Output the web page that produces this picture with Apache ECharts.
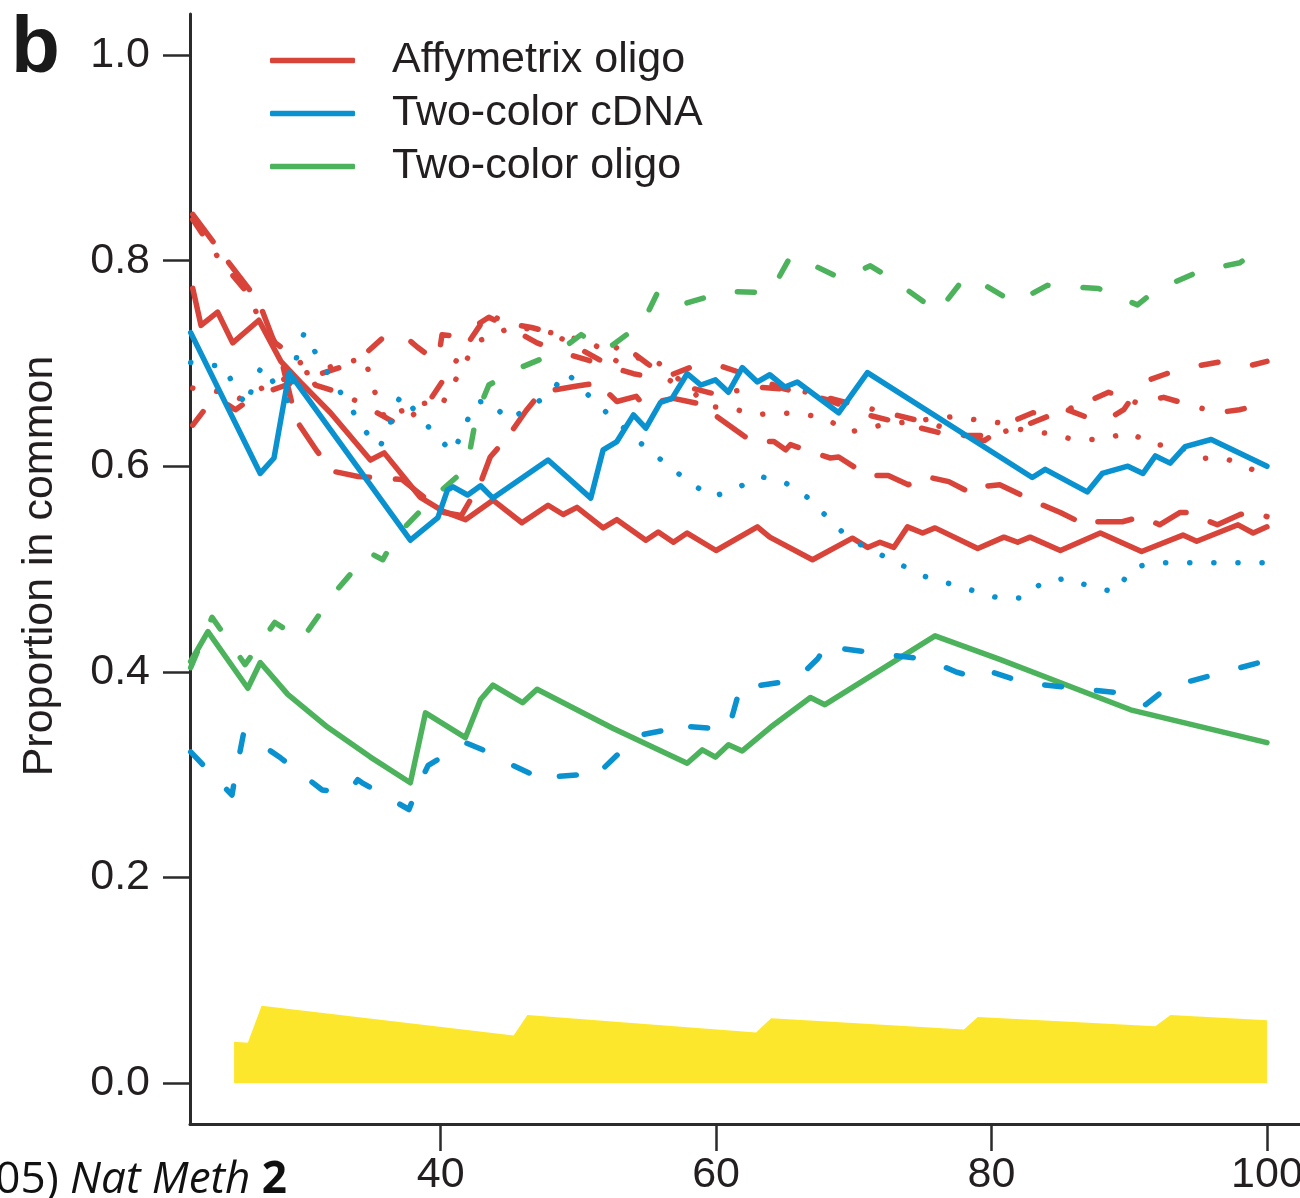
<!DOCTYPE html>
<html>
<head>
<meta charset="utf-8">
<script src="https://cdn.jsdelivr.net/npm/echarts@6/dist/echarts.min.js"></script>
<style>
  html, body { margin: 0; padding: 0; background: #fff; }
  #chart { width: 1300px; height: 1198px; }
</style>
</head>
<body>
<div id="chart"></div>
<script>
// tick labels
const xTicks = [40, 60, 80, 100]
const yTicks = [0, 0.2, 0.4, 0.6, 0.8, 1.0]
const legendNames = ['Affymetrix oligo', 'Two-color cDNA', 'Two-color oligo']

// Affymetrix oligo (red)
const affySolid = [[22,.773],[22.6,.737],[23.8,.750],[24.9,.720],[26.8,.742],[28.4,.702],[29.8,.682],[32.0,.652],[34.9,.606],[35.9,.613],[38.5,.570],[40.2,.556],[41.8,.548],[43.8,.567],[45.9,.545],[47.8,.562],[48.9,.553],[49.9,.560],[51.8,.540],[52.8,.548],[54.9,.528],[55.8,.536],[56.9,.526],[57.9,.535],[60.0,.518],[63.0,.541],[63.9,.531],[67.0,.509],[69.9,.530],[71.0,.521],[71.9,.526],[72.9,.521],[73.9,.541],[75.0,.535],[75.9,.540],[79.0,.520],[80.9,.531],[81.9,.526],[82.8,.531],[85.0,.518],[87.9,.535],[90.9,.517],[93.9,.533],[94.9,.527],[97.9,.543],[99.0,.535],[100,.541]]
const affyDash = [[22,.640],[23.6,.668],[25.1,.655],[26.5,.668],[29,.680],[32.9,.697],[34.4,.708],[35.9,.726],[37,.731],[38.3,.716],[39.8,.701],[40.1,.728],[41.3,.726],[43.5,.745],[45,.735],[47,.720],[49,.710],[51.5,.700],[54,.690],[56,.685],[58.3,.697],[59.8,.700],[62,.690],[65,.675],[68,.665],[71,.650],[74,.640],[77,.630],[79.5,.625],[81.4,.643],[83,.652],[85.5,.655],[88,.642],[89.6,.655],[91,.682],[92.7,.690],[95.1,.698],[96.8,.702],[98.8,.698],[100,.702]]
const affyDotDash = [[22,.840],[24,.800],[26.2,.765],[26.6,.750],[28,.720],[29.7,.703],[30.9,.679],[33,.670],[35,.655],[37,.640],[39,.660],[41,.700],[43.5,.750],[44.5,.740],[46.6,.735],[48,.730],[50,.715],[52,.700],[53,.720],[55,.700],[57,.680],[60,.670],[63,.677],[66,.674],[70,.660],[73,.650],[76,.640],[78,.630],[80,.630],[82.5,.640],[84,.648],[86.5,.660],[88.5,.672],[90.5,.662],[92.5,.667],[94.3,.660],[96.4,.652],[98,.655],[99,.658],[100,.650]]
const affyDot = [[22,.676],[24.2,.672],[25.4,.666],[28,.682],[30,.690],[33,.700],[34.5,.706],[35,.680],[36,.645],[37,.653],[39,.662],[40,.658],[41,.682],[42.6,.721],[45.3,.736],[48,.730],[51,.720],[53,.700],[55,.708],[56.5,.694],[58,.676],[59.5,.658],[61,.657],[62.8,.650],[64.5,.652],[66.2,.651],[67.9,.647],[69.6,.633],[72,.640],[75,.645],[77,.648],[79,.645],[80.7,.642],[82,.636],[84,.632],[86,.626],[88,.626],[90,.633],[91.7,.621],[93.5,.620],[95.3,.608],[97.1,.607],[98.9,.597],[100,.595]]
const affyLong = [[22,.845],[24.5,.800],[26.8,.760],[28.5,.700],[29.5,.645],[31,.615],[32.2,.595],[34,.590],[37.2,.587],[40.2,.555],[41.5,.552],[42.9,.584],[43.6,.609],[44.9,.629],[46.2,.654],[47.3,.672],[49.9,.678],[51.4,.681],[52.8,.663],[54.2,.668],[54.7,.660],[56.9,.666],[58.7,.661],[60.2,.647],[62.6,.624],[64.2,.624],[65.05,.616],[65.4,.621],[66.85,.614],[68.3,.608],[68.9,.609],[71,.591],[72.5,.591],[73.96,.582],[75.2,.590],[76.9,.585],[78.5,.574],[79.2,.580],[80.6,.582],[83.4,.564],[85,.555],[86.95,.542],[87.7,.546],[89.5,.546],[90.9,.551],[92.2,.543],[93.7,.555],[94.2,.555],[96.4,.543],[98.05,.553],[99,.556],[100,.551]]

// Two-color cDNA (blue)
const cdnaSolid = [[21.85,.730],[26.9,.593],[27.9,.608],[29.0,.691],[37.8,.528],[39.8,.550],[40.5,.577],[40.9,.580],[41.96,.572],[42.9,.581],[43.8,.569],[47.8,.606],[50.9,.569],[51.8,.616],[52.8,.624],[54.0,.650],[54.9,.637],[55.96,.662],[56.8,.666],[57.9,.690],[58.9,.679],[59.96,.684],[60.9,.672],[61.9,.696],[63.0,.682],[63.9,.689],[65.0,.677],[65.9,.682],[68.9,.652],[70.99,.691],[82.96,.589],[83.9,.597],[86.95,.575],[88.04,.593],[89.9,.600],[91.0,.593],[91.9,.610],[92.97,.603],[94.06,.619],[95.95,.626],[100,.600]]
const cdnaDash = [[21.85,.322],[24.85,.280],[25.0,.292],[25.7,.341],[28.4,.316],[31.4,.285],[33.25,.282],[33.98,.295],[34.3,.292],[37.7,.266],[38.4,.290],[39.1,.309],[41.8,.331],[43.6,.321],[44.9,.311],[47.0,.298],[47.8,.292],[48.3,.298],[50.3,.300],[50.9,.295],[51.5,.302],[54.3,.338],[56.2,.343],[56.9,.352],[57.6,.347],[60.9,.344],[61.55,.375],[61.99,.388],[62.35,.385],[65.8,.392],[67.4,.413],[68.1,.428],[68.3,.424],[71.7,.418],[75.3,.412],[77.4,.400],[77.9,.398],[78.8,.405],[82.5,.389],[89.6,.379],[91.2,.368],[92.8,.385],[100,.411]]
const cdnaDot = [[21.85,.701],[23.1,.698],[24.3,.698],[25.1,.674],[26.0,.658],[26.4,.684],[27.1,.698],[28.2,.674],[29.0,.662],[29.6,.711],[30.1,.730],[31.1,.706],[32.2,.682],[33.3,.661],[34.3,.638],[35.5,.618],[36.2,.632],[36.6,.657],[37.2,.670],[38.4,.649],[39.8,.628],[40.9,.613],[41.7,.637],[42.5,.662],[43.5,.664],[44.9,.645],[46.6,.658],[48.1,.673],[49.1,.692],[50.5,.672],[51.9,.654],[54.9,.618],[56.5,.601],[58.0,.585],[59.7,.570],[61.4,.578],[63.2,.590],[64.9,.585],[66.6,.570],[69.7,.529],[75.1,.493],[80.7,.471],[82.3,.472],[83.8,.488],[85.6,.491],[87.5,.481],[89.1,.478],[90.1,.500],[91.6,.506],[100,.506]]

// Two-color oligo (green)
const oligoSolid = [[21.85,.410],[23.1,.439],[26.0,.384],[26.9,.409],[28.9,.378],[31.8,.346],[34.9,.317],[37.8,.292],[38.9,.360],[41.8,.336],[42.9,.373],[43.8,.387],[45.95,.370],[47.0,.383],[52.5,.345],[57.9,.311],[59.0,.324],[59.96,.317],[60.9,.329],[61.9,.323],[63.95,.346],[66.85,.375],[67.9,.368],[75.9,.435],[80.6,.412],[90.1,.363],[100,.331]]
const oligoDash = [[21.85,.404],[23.4,.453],[25.8,.407],[27.96,.448],[29.9,.431],[32.3,.477],[34.8,.516],[35.8,.509],[36.7,.531],[39.5,.570],[41.2,.590],[41.96,.603],[42.4,.635],[42.76,.655],[43.5,.679],[45.8,.696],[48.5,.711],[50.2,.728],[52.0,.713],[54.7,.740],[55.75,.769],[57.4,.757],[60.7,.770],[63.95,.769],[65.4,.804],[66.1,.802],[69.0,.783],[69.4,.784],[71.2,.795],[72.9,.781],[76.1,.750],[77.9,.781],[78.5,.784],[81.7,.759],[84.05,.776],[87.75,.773],[88.6,.768],[90.6,.757],[91.9,.771],[95.15,.790],[98.05,.798],[98.8,.806],[100,.812]]

// yellow band
const chanceBand = [[25,.040],[26,.039],[27,.075],[45.3,.046],[46.3,.066],[62.9,.049],[64,.063],[78,.052],[79,.064],[91.9,.055],[93,.066],[100,.061]]

const RED = '#D9443A'
const BLUE = '#0A91CF'
const GREEN = '#4CB35C'
const YELLOW = '#FCE72C'
const INK = '#231f20'
const FONT = '"Liberation Sans", Arial, sans-serif'

const SOLID = 'solid'
const DASHED = [17, 35]
const LONGDASH = [34, 26]
const DOTTED = [0.1, 24]
const DOTDASH = [17, 26, 0.1, 26]

function lineSeries(name, data, color, dash) {
  return {
    name: name,
    type: 'line',
    data: data,
    symbol: 'none',
    silent: true,
    itemStyle: { color: color },
    lineStyle: { color: color, width: 5.5, type: dash, cap: 'round', join: 'round' }
  }
}

const chart = echarts.init(document.getElementById('chart'))

chart.setOption({
  animation: false,
  backgroundColor: '#fff',
  grid: { left: 190, right: 0, top: 14, bottom: 74, outerBoundsMode: 'none', containLabel: false },
  legend: {
    data: legendNames,
    orient: 'vertical',
    left: 270,
    top: 39,
    padding: 0,
    icon: 'roundRect',
    itemWidth: 85,
    itemHeight: 5.5,
    itemGap: 10,
    selectedMode: false,
    textStyle: { fontSize: 43, lineHeight: 43, color: INK, fontFamily: FONT, padding: [0, 0, 0, 32] }
  },
  xAxis: {
    type: 'value',
    min: 21.8,
    max: 102.4,
    axisLine: { onZero: false, lineStyle: { color: '#2b2b2b', width: 3 } },
    axisTick: { length: 27, lineStyle: { color: '#2b2b2b', width: 2.5 }, customValues: xTicks },
    axisLabel: { fontSize: 43, color: INK, fontFamily: FONT, margin: 30, customValues: xTicks },
    splitLine: { show: false }
  },
  yAxis: {
    type: 'value',
    min: -0.04,
    max: 1.04,
    axisLine: { show: true, onZero: false, lineStyle: { color: '#2b2b2b', width: 3 } },
    axisTick: { show: true, length: 27, lineStyle: { color: '#2b2b2b', width: 2.5 }, customValues: yTicks },
    axisLabel: { fontSize: 43, color: INK, fontFamily: FONT, margin: 40, customValues: yTicks,
      formatter: function (v) { return v.toFixed(1) } },
    splitLine: { show: false }
  },
  graphic: [
    { type: 'text', left: 11, top: 10, style: { text: 'b', font: 'bold 80px ' + FONT, fill: '#1a1a1a' } },
    { type: 'text', x: 40, y: 566, rotation: Math.PI / 2,
      style: { text: 'Proportion in common', font: '43px ' + FONT, fill: INK, textAlign: 'center', textVerticalAlign: 'middle' } },
    { type: 'text', x: 287, y: 1180,
      style: { text: '{n|(2005) }{i|Nat Meth }{b|2}', textAlign: 'right', textVerticalAlign: 'middle',
        rich: {
          n: { fontSize: 44, fontFamily: '"Open Sans", sans-serif', fill: '#111' },
          i: { fontSize: 44, fontFamily: '"Open Sans", sans-serif', fontStyle: 'italic', fill: '#111' },
          b: { fontSize: 44, fontFamily: '"Open Sans", sans-serif', fontWeight: 'bold', fill: '#111' }
        } } }
  ],
  series: [
    {
      name: 'chance',
      type: 'line',
      data: chanceBand,
      symbol: 'none',
      silent: true,
      lineStyle: { width: 0 },
      itemStyle: { color: YELLOW },
      areaStyle: { color: YELLOW, opacity: 1, origin: 0 }
    },
    lineSeries('Affymetrix oligo', affySolid, RED, SOLID),
    lineSeries('affy-dash', affyDash, RED, DASHED),
    lineSeries('affy-dotdash', affyDotDash, RED, DOTDASH),
    lineSeries('affy-dot', affyDot, RED, DOTTED),
    lineSeries('affy-long', affyLong, RED, LONGDASH),
    lineSeries('Two-color oligo', oligoSolid, GREEN, SOLID),
    lineSeries('oligo-dash', oligoDash, GREEN, DASHED),
    lineSeries('Two-color cDNA', cdnaSolid, BLUE, SOLID),
    lineSeries('cdna-dash', cdnaDash, BLUE, DASHED),
    lineSeries('cdna-dot', cdnaDot, BLUE, DOTTED)
  ]
})
</script>
</body>
</html>
